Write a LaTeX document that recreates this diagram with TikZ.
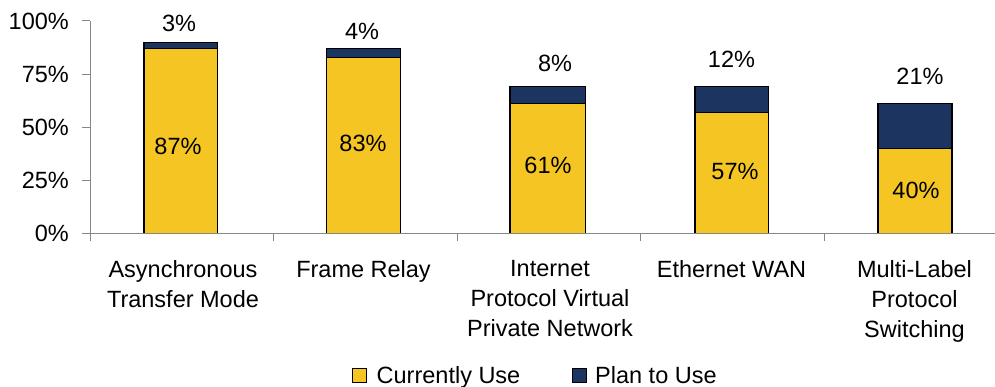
\documentclass[tikz,border=0pt]{standalone}
\usepackage{fontspec}
\setmainfont{Liberation Sans}
\definecolor{barYellow}{HTML}{F5C623}
\definecolor{barNavy}{HTML}{1C3560}
\definecolor{axisGray}{HTML}{868686}
\tikzset{
  lbl/.style={font=\fontsize{23.5}{30}\selectfont, inner sep=0pt, text=black},
  catlbl/.style={lbl, align=center, anchor=north},
  curbar/.style={fill=barYellow, draw=black, line width=1.1pt},
  planbar/.style={fill=barNavy, draw=black, line width=1.1pt},
  axisline/.style={draw=axisGray, line width=1pt},
  legsq/.style={draw=black, line width=1pt, minimum size=14pt, inner sep=0pt}
}
\begin{document}
\begin{tikzpicture}[x=1pt,y=-1pt]
\useasboundingbox (0,0) rectangle (995,387);
% bars: y = 233.5 - v*2.125
% bar 1: 87 / 3
\draw[curbar] (144,233.5) rectangle (217.5,48.6);
\draw[planbar] (144,48.6) rectangle (217.5,42.25);
% bar 2: 83 / 4
\draw[curbar] (326.8,233.5) rectangle (400.6,57.1);
\draw[planbar] (326.8,57.1) rectangle (400.6,48.6);
% bar 3: 61 / 8
\draw[curbar] (510,233.5) rectangle (585.7,103.9);
\draw[planbar] (510,103.9) rectangle (585.7,86.9);
% bar 4: 57 / 12
\draw[curbar] (695,233.5) rectangle (768.7,112.4);
\draw[planbar] (695,112.4) rectangle (768.7,86.9);
% bar 5: 40 / 21
\draw[curbar] (878,233.5) rectangle (952,148.5);
\draw[planbar] (878,148.5) rectangle (952,103.9);
% axes
\coordinate (o) at (90,233.5);
\coordinate (top) at (90,21);
\coordinate (xend) at (995,233.5);
\draw[axisline] (top) -- (o) -- (xend);
\foreach \v/\t in {0/0\%,25/25\%,50/50\%,75/75\%,100/100\%}{
  \draw[axisline] (82,233.5-\v*2.125) -- (90,233.5-\v*2.125);
  \node[lbl, anchor=east] (y\v) at (69,233.5-\v*2.125) {\t};
}
\foreach \x in {90,273.5,457,640.5,824}{
  \draw[axisline] (\x,233.5) -- (\x,241.5);
}
% value labels
\node[lbl] (p1) at (179,23) {3\%};
\node[lbl] (p2) at (362,31) {4\%};
\node[lbl] (p3) at (555,63) {8\%};
\node[lbl] (p4) at (731.5,59) {12\%};
\node[lbl] (p5) at (920,76) {21\%};
\node[lbl] (c1) at (178,146) {87\%};
\node[lbl] (c2) at (363,143.5) {83\%};
\node[lbl] (c3) at (548,165) {61\%};
\node[lbl] (c4) at (735,171.5) {57\%};
\node[lbl] (c5) at (916,190) {40\%};
% category labels
\node[catlbl] (k1) at (183,260) {Asynchronous\\Transfer Mode};
\node[catlbl] (k2) at (363.5,260) {Frame Relay};
\node[catlbl] (k3) at (550,260) {Internet\\Protocol Virtual\\Private Network};
\node[catlbl] (k4) at (731.5,260) {Ethernet WAN};
\node[catlbl] (k5) at (914.5,260) {Multi-Label\\Protocol\\Switching};
% legend
\node[legsq, fill=barYellow] (lg1) at (359.2,375) {};
\node[lbl, anchor=base west] (lt1) at (376.5,383) {Currently Use};
\node[legsq, fill=barNavy] (lg2) at (579.2,375) {};
\node[lbl, anchor=base west] (lt2) at (595,383) {Plan to Use};
\end{tikzpicture}
\end{document}
